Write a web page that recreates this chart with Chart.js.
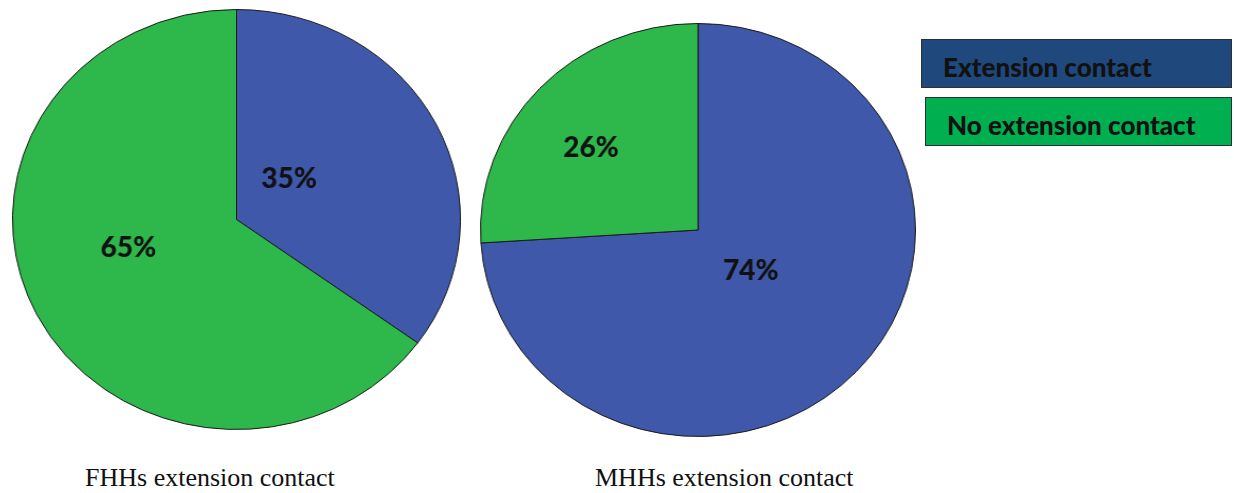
<!DOCTYPE html>
<html>
<head>
<meta charset="utf-8">
<script src="https://cdn.jsdelivr.net/npm/chart.js@4"></script>
<style>
  body { margin: 0; background: #fff; width: 1234px; height: 493px; position: relative; overflow: hidden; }
  canvas { position: absolute; }
  .key { position: absolute; box-sizing: border-box; border: 1px solid #2b2f36; }
  .keyText { position: absolute; font-family: Lato, sans-serif; font-weight: 900; font-size: 26px; line-height: 26px; color: #111; white-space: nowrap; }
  .title { position: absolute; font-family: 'Liberation Serif', serif; font-size: 26px; line-height: 26px; color: #111; white-space: nowrap; }
</style>
</head>
<body>
<canvas id="fhhChart" width="421" height="421" style="left:12px; top:9px; width:449px; height:421px;"></canvas>
<canvas id="mhhChart" width="414" height="414" style="left:480px; top:23px; width:436px; height:414px;"></canvas>

<div class="key" id="key0" style="left:921px; top:39px; width:311px; height:49px;"></div>
<div class="key" id="key1" style="left:925px; top:97px; width:307px; height:49px;"></div>
<div class="keyText" id="keyText0" style="left:943px; top:54px;"></div>
<div class="keyText" id="keyText1" style="left:947px; top:112px;"></div>

<div class="title" id="title0" style="left:85px; top:465px;"></div>
<div class="title" id="title1" style="left:595px; top:465px;"></div>

<script>
const slices = ['Extension contact', 'No extension contact'];
const fhhValues = [35, 65];
const mhhValues = [74, 26];
const chartTitles = ['FHHs extension contact', 'MHHs extension contact'];

const pieColors = ['#3F58AA', '#2EB84B'];
const keyColors = ['#1F487C', '#00B050'];

// label nudges: [fraction of radius, angle shift in degrees]
const fhhLabelPos = [[0.307, -13], [0.50, 12]];
const mhhLabelPos = [[0.31, -4.7], [0.635, -4]];

slices.forEach((s, i) => {
    document.getElementById('key' + i).style.background = keyColors[i];
    document.getElementById('keyText' + i).textContent = s;
});
chartTitles.forEach((t, i) => {
    document.getElementById('title' + i).textContent = t;
});

const percentLabels = {
    id: 'percentLabels',
    afterDatasetsDraw(chart, args, opts) {
        const ctx = chart.ctx;
        const sx = chart.canvas.clientWidth / chart.width;
        const meta = chart.getDatasetMeta(0);
        const values = chart.data.datasets[0].data;
        const total = values.reduce((a, b) => a + b, 0);
        meta.data.forEach((arc, i) => {
            const p = arc.getProps(['x', 'y', 'startAngle', 'endAngle', 'outerRadius'], true);
            const [frac, shift] = opts.pos[i];
            const mid = (p.startAngle + p.endAngle) / 2 + shift * Math.PI / 180;
            const px = p.x + Math.cos(mid) * frac * p.outerRadius;
            const py = p.y + Math.sin(mid) * frac * p.outerRadius;
            ctx.save();
            ctx.translate(px, py);
            ctx.scale(1 / sx, 1);
            ctx.font = '900 28px Lato, sans-serif';
            ctx.fillStyle = '#111';
            ctx.textAlign = 'center';
            ctx.textBaseline = 'alphabetic';
            ctx.fillText(Math.round(values[i] / total * 100) + '%', 0, 10);
            ctx.restore();
        });
    }
};

function makePie(id, values, labelPos) {
    new Chart(document.getElementById(id), {
        type: 'pie',
        data: {
            labels: slices,
            datasets: [{
                data: values,
                backgroundColor: pieColors,
                borderColor: '#1a1a1a',
                borderWidth: 1
            }]
        },
        options: {
            responsive: false,
            animation: false,
            layout: { padding: 0 },
            plugins: {
                legend: { display: false },
                tooltip: { enabled: false },
                percentLabels: { pos: labelPos }
            }
        },
        plugins: [percentLabels]
    });
}

makePie('fhhChart', fhhValues, fhhLabelPos);
makePie('mhhChart', mhhValues, mhhLabelPos);
</script>
</body>
</html>
